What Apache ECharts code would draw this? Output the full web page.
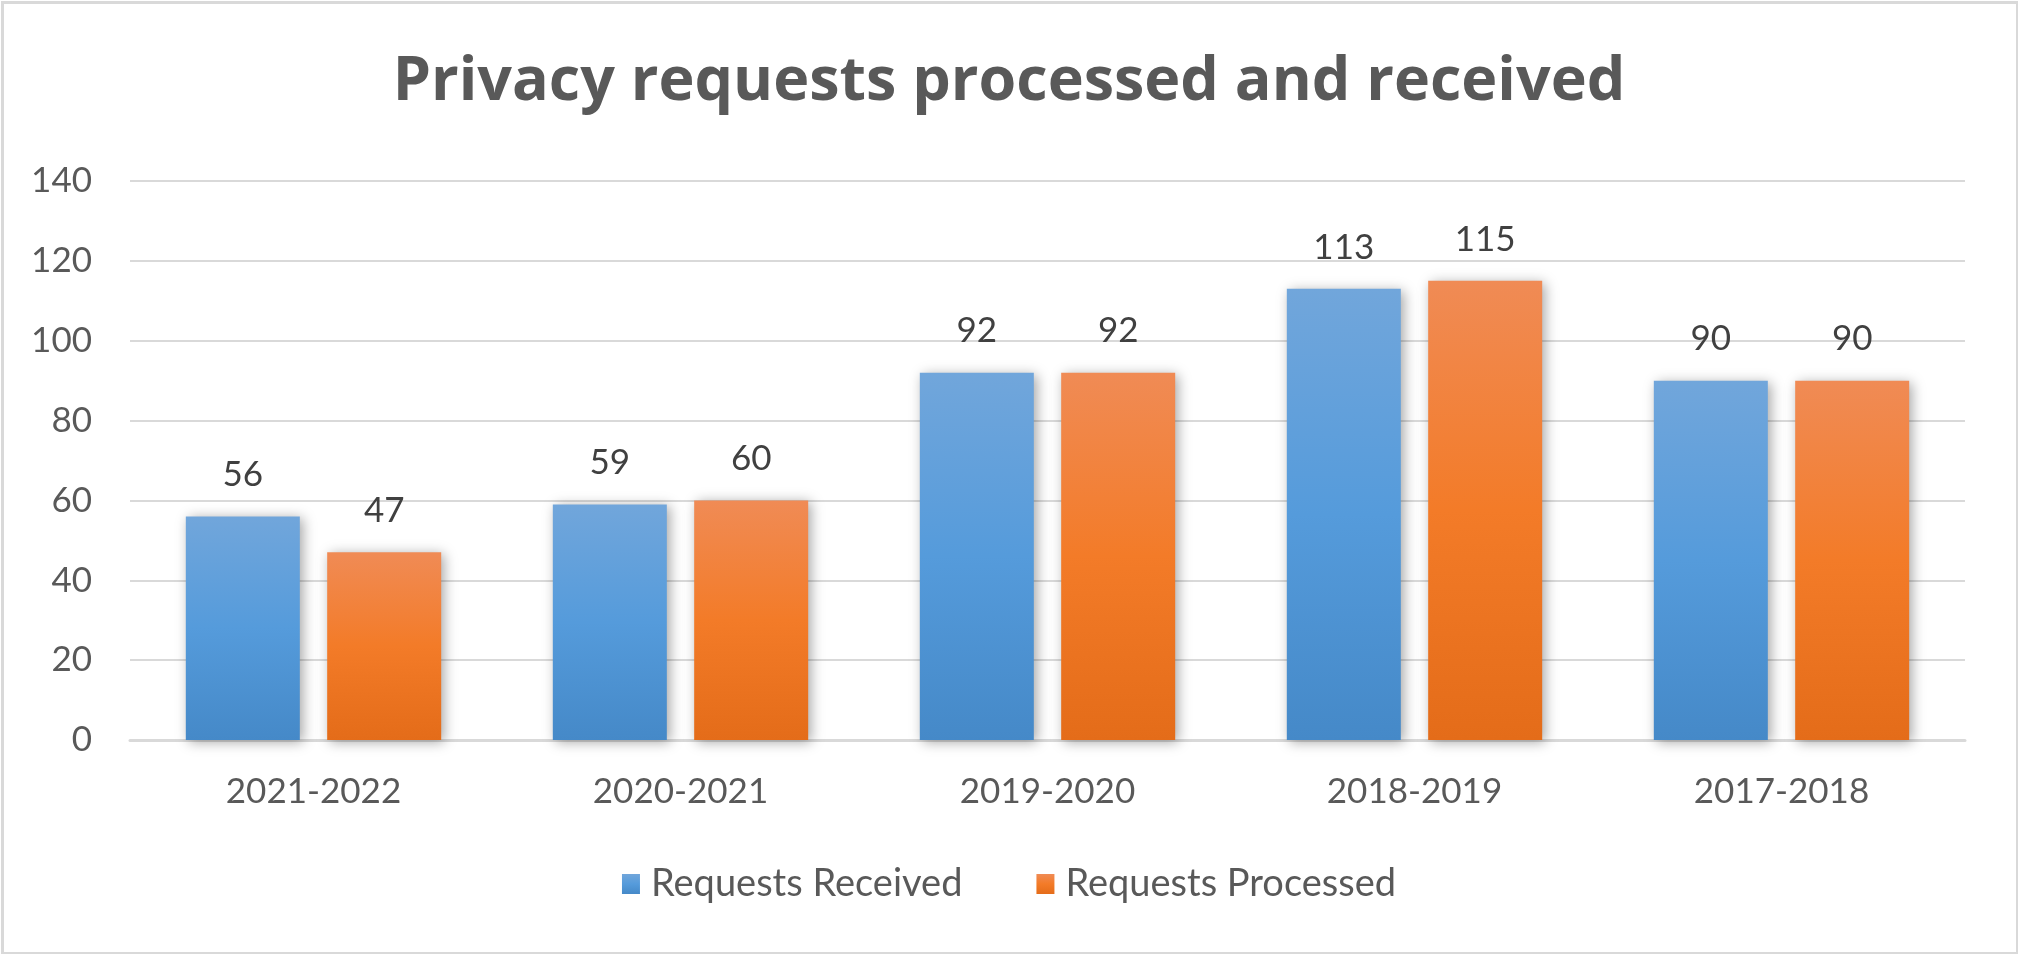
<!DOCTYPE html>
<html>
<head>
<meta charset="utf-8">
<script src="https://cdn.jsdelivr.net/npm/echarts@6/dist/echarts.min.js"></script>
<style>
html,body{margin:0;padding:0;background:#fff;}
#chart{width:2018px;height:954px;}
</style>
</head>
<body>
<div id="chart"></div>
<script>
var categories = ['2021-2022', '2020-2021', '2019-2020', '2018-2019', '2017-2018'];
var received = [56, 59, 92, 113, 90];
var processed = [47, 60, 92, 115, 90];
var yTicks = [0, 20, 40, 60, 80, 100, 120, 140];
var seriesNames = ['Requests Received', 'Requests Processed'];
var titleText = 'Privacy requests processed and received';

var FONT = 'Lato';
var chart = echarts.init(document.getElementById('chart'), null, {renderer: 'canvas'});

function grad(top, mid, bottom) {
  return new echarts.graphic.LinearGradient(0, 0, 0, 1, [
    {offset: 0, color: top}, {offset: 0.5, color: mid}, {offset: 1, color: bottom}
  ]);
}

var labelStyle = {
  show: true, position: 'top', distance: 24,
  color: '#404040', fontFamily: FONT, fontSize: 35
};

chart.setOption({
  backgroundColor: '#ffffff',
  animation: false,
  graphic: [{
    type: 'rect', left: 0, top: 0, z: -10, silent: true,
    shape: {x: 1.5, y: 1.5, width: 2015, height: 951},
    style: {fill: 'none', stroke: '#d9d9d9', lineWidth: 3}
  }],
  title: {
    text: titleText, left: 'center', top: 47,
    textStyle: {fontFamily: 'Open Sans', fontWeight: 'bold', fontSize: 61, color: '#595959'}
  },
  legend: {
    data: seriesNames, bottom: 46, left: 'center',
    itemWidth: 18, itemHeight: 20, itemGap: 74,
    textStyle: {fontFamily: FONT, fontSize: 38, color: '#595959', padding: [0, 0, 0, 6]},
    icon: 'rect'
  },
  grid: {left: 130, right: 53, top: 181, bottom: 214, containLabel: false},
  xAxis: {
    type: 'category', data: categories,
    axisLine: {show: true, lineStyle: {color: '#d9d9d9', width: 3}},
    axisTick: {show: false},
    axisLabel: {fontFamily: FONT, fontSize: 35, color: '#595959', margin: 34}
  },
  yAxis: {
    type: 'value', min: yTicks[0], max: yTicks[yTicks.length - 1], interval: 20,
    axisLine: {show: false}, axisTick: {show: false},
    splitLine: {lineStyle: {color: '#d9d9d9', width: 2}},
    axisLabel: {fontFamily: FONT, fontSize: 35, color: '#595959', margin: 38}
  },
  series: [{
    name: seriesNames[0], type: 'bar', data: received,
    barWidth: 114, barGap: '24%',
    itemStyle: {
      color: grad('#71a6db', '#559bdb', '#4589c8'),
      shadowColor: 'rgba(0,0,0,0.35)', shadowBlur: 12, shadowOffsetX: 3, shadowOffsetY: 2
    },
    label: labelStyle
  }, {
    name: seriesNames[1], type: 'bar', data: processed,
    barWidth: 114, barGap: '24%',
    itemStyle: {
      color: grad('#f08b55', '#f37b28', '#e46c19'),
      shadowColor: 'rgba(0,0,0,0.35)', shadowBlur: 12, shadowOffsetX: 3, shadowOffsetY: 2
    },
    label: labelStyle
  }]
});
</script>
</body>
</html>
